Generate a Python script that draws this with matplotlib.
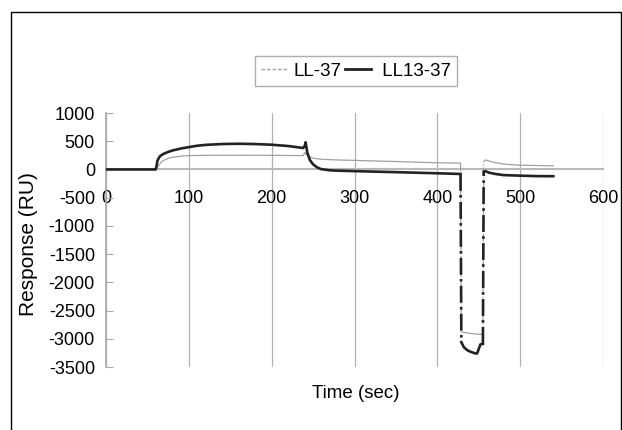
import numpy as np
import matplotlib.pyplot as plt
from matplotlib.lines import Line2D
from matplotlib.patches import Rectangle

plt.rcParams['font.family'] = ['Liberation Sans', 'DejaVu Sans']
plt.rcParams['axes.unicode_minus'] = False

# LL-37 sensorgram (thin grey)
t_ll37 = [0, 60, 61, 63, 66, 70, 75, 80, 90, 100, 120, 150, 200, 238, 240, 242,
          245, 250, 260, 280, 300, 350, 400, 428,
          429, 435, 445, 455,
          456, 458, 462, 470, 480, 500, 520, 540]
r_ll37 = [0, 0, 10, 60, 120, 165, 195, 215, 235, 245, 250, 252, 250, 245, 300, 260,
          225, 200, 180, 168, 160, 140, 118, 112,
          -2880, -2895, -2915, -2925,
          140, 170, 150, 120, 95, 75, 70, 65]

# LL13-37 sensorgram (thick black)
t_ll13 = [0, 60, 61, 62, 64, 66, 70, 75, 80, 90, 100, 110, 120, 140, 160, 180,
          200, 220, 238, 240, 241, 243, 246, 250, 255, 260, 270, 280, 300, 350,
          400, 428,
          429, 432, 436, 440, 446, 448, 450, 452, 455,
          456, 458, 462, 470, 480, 500, 520, 540]
r_ll13 = [0, 0, 60, 150, 210, 245, 280, 310, 335, 370, 395, 420, 435, 450, 455, 450,
          438, 415, 380, 420, 480, 300, 170, 90, 35, 5, -15, -22, -30, -48,
          -68, -80,
          -3060, -3150, -3200, -3230, -3260, -3260, -3180, -3100, -3090,
          -40, -30, -55, -80, -100, -110, -118, -120]

xticks = [0, 100, 200, 300, 400, 500, 600]
yticks = [1000, 500, 0, -500, -1000, -1500, -2000, -2500, -3000, -3500]


def draw(ax, t, r, color, lw):
    # solid trace, the big injection jumps drawn dash-dot like the sparse data
    t = np.asarray(t, float)
    r = np.asarray(r, float)
    jumps = np.where(np.abs(np.diff(r)) > 1000)[0]
    start = 0
    for j in jumps:
        ax.plot(t[start:j + 1], r[start:j + 1], color=color, lw=lw, zorder=3)
        ax.plot(t[j:j + 2], r[j:j + 2], color=color, lw=lw, ls='-.', zorder=3)
        start = j + 1
    ax.plot(t[start:], r[start:], color=color, lw=lw, zorder=3)


fig = plt.figure(figsize=(6.22, 4.30), dpi=100)
ax = fig.add_axes([106 / 622, 1 - 367 / 430, 497 / 622, 254 / 430])

draw(ax, t_ll37, r_ll37, '#a0a0a0', 0.9)
draw(ax, t_ll13, r_ll13, '#222222', 1.9)

ax.set_xlim(0, 600)
ax.set_ylim(-3500, 1000)
ax.set_xticks(xticks)
ax.set_yticks(yticks)
ax.xaxis.grid(True, color='#b0b0b0', lw=0.9)
ax.set_axisbelow(True)

for s in ['top', 'right']:
    ax.spines[s].set_visible(False)
ax.spines['left'].set_color('#a8a8a8')
ax.spines['left'].set_linewidth(1.2)
ax.spines['bottom'].set_position(('data', 0))
ax.spines['bottom'].set_color('#b8b8b8')
ax.spines['bottom'].set_linewidth(1.5)
ax.spines['bottom'].set_zorder(1)

ax.tick_params(axis='x', length=0, pad=15, labelsize=13)
ax.tick_params(axis='y', direction='in', length=5, color='#a8a8a8', pad=8,
               labelsize=13)

fig.text(29 / 622, 1 - 244 / 430, 'Response (RU)', rotation=90,
         ha='center', va='center', fontsize=15)
fig.text(356 / 622, 1 - 393 / 430, 'Time (sec)', ha='center', va='center',
         fontsize=13.5)

handles = [Line2D([], [], color='#a0a0a0', lw=1.0, ls=(0, (2.5, 1.5))),
           Line2D([], [], color='#222222', lw=2.0)]
leg = fig.legend(handles, ['LL-37', ' LL13-37'], loc='center',
                 bbox_to_anchor=(356 / 622, 1 - 71 / 430), ncol=2,
                 fontsize=13.5, frameon=True, fancybox=False, handlelength=1.4,
                 handletextpad=0.3, columnspacing=0.2, borderpad=0.35)
leg.get_frame().set_edgecolor('#9a9a9a')
leg.get_frame().set_linewidth(1.0)

fig.add_artist(Rectangle((11 / 622, -0.05), 610 / 622, 1.05 - 12 / 430,
                         transform=fig.transFigure, fill=False,
                         edgecolor='black', lw=1.0))

fig.savefig('out.png', dpi=100)
